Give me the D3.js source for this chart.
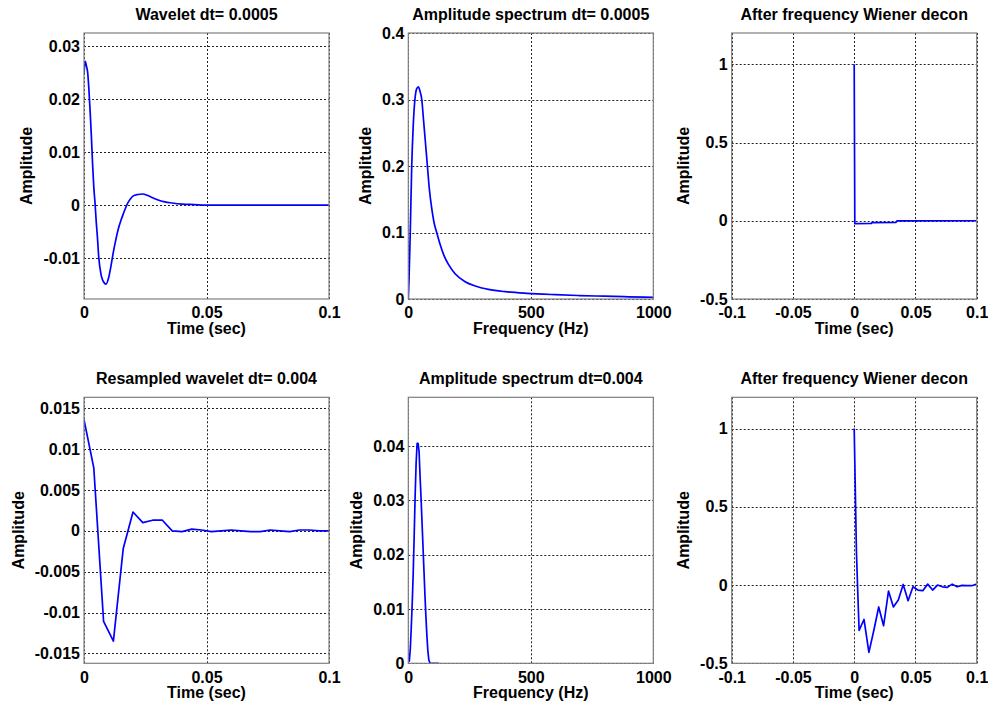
<!DOCTYPE html>
<html>
<head>
<meta charset="utf-8">
<script src="https://cdn.jsdelivr.net/npm/d3@7"></script>
<style>
  body { margin: 0; background: #fff; }
  text { font-family: "Liberation Sans", Arial, sans-serif; font-weight: bold; fill: #000; }
</style>
</head>
<body>
<div id="chart"></div>
<script>
// Titles and labels
const TITLES = [
	"Wavelet dt= 0.0005",
	"Amplitude spectrum dt= 0.0005",
	"After frequency Wiener decon",
	"Resampled wavelet dt= 0.004",
	"Amplitude spectrum dt=0.004",
	"After frequency Wiener decon"
];
const X_LABELS = ["Time (sec)", "Frequency (Hz)", "Time (sec)", "Time (sec)", "Frequency (Hz)", "Time (sec)"];
const Y_LABEL = "Amplitude";

// Tick values and their labels
const timeTicks = [0, 0.05, 0.1];
const timeTickLabels = ["0", "0.05", "0.1"];
const freqTicks = [0, 500, 1000];
const freqTickLabels = ["0", "500", "1000"];
const deconTimeTicks = [-0.1, -0.05, 0, 0.05, 0.1];
const deconTimeTickLabels = ["-0.1", "-0.05", "0", "0.05", "0.1"];
const wavelet1Ticks = [-0.01, 0, 0.01, 0.02, 0.03];
const wavelet1TickLabels = ["-0.01", "0", "0.01", "0.02", "0.03"];
const spectrum1Ticks = [0, 0.1, 0.2, 0.3, 0.4];
const spectrum1TickLabels = ["0", "0.1", "0.2", "0.3", "0.4"];
const deconTicks = [-0.5, 0, 0.5, 1];
const deconTickLabels = ["-0.5", "0", "0.5", "1"];
const wavelet2Ticks = [-0.015, -0.01, -0.005, 0, 0.005, 0.01, 0.015];
const wavelet2TickLabels = ["-0.015", "-0.01", "-0.005", "0", "0.005", "0.01", "0.015"];
const spectrum2Ticks = [0, 0.01, 0.02, 0.03, 0.04];
const spectrum2TickLabels = ["0", "0.01", "0.02", "0.03", "0.04"];

// Wavelet dt = 0.0005
const wavelet1Time = [0, 0.0005, 0.001, 0.0015, 0.002, 0.0025, 0.003, 0.0035, 0.004, 0.0045, 0.005, 0.0055,
	0.006, 0.007, 0.008, 0.009, 0.010, 0.011, 0.012, 0.013, 0.014, 0.015, 0.016, 0.017, 0.018, 0.019, 0.020,
	0.022, 0.024, 0.026, 0.028, 0.030, 0.033, 0.036, 0.040, 0.045, 0.050, 0.070, 0.100];
const wavelet1Amp = [0.0248, 0.0271, 0.0262, 0.0250, 0.0218, 0.0177, 0.0131, 0.0078, 0.0034, 0.0004, -0.0032, -0.0062,
	-0.0097, -0.0132, -0.0145, -0.0149, -0.0138, -0.0115, -0.0088, -0.0065, -0.0045, -0.0030, -0.0017, -0.0005, 0.0005, 0.0012, 0.0017,
	0.0020, 0.0021, 0.0018, 0.0014, 0.0010, 0.0006, 0.0004, 0.0002, 0.0001, 0.0000, 0.0000, 0.0000];

// Amplitude spectrum dt = 0.0005
const spectrum1Freq = [0, 3, 8, 14, 20, 27, 34, 41, 48, 55, 62, 70, 78, 86, 95, 105, 116, 130, 145, 164, 191,
	232, 273, 327, 396, 484, 600, 700, 800, 900, 1000];
const spectrum1Amp = [0, 0.03, 0.1, 0.2, 0.26, 0.3, 0.316, 0.319, 0.312, 0.3, 0.27, 0.235, 0.2, 0.165, 0.138, 0.115, 0.1,
	0.082, 0.066, 0.052, 0.038, 0.026, 0.0196, 0.0145, 0.011, 0.0085, 0.0065, 0.0052, 0.0042, 0.0033, 0.0026];

// Deconvolved trace dt = 0.0005
const decon1Time = [0, 0.0005, 0.014, 0.0145, 0.034, 0.035, 0.1];
const decon1Amp = [1, -0.018, -0.017, -0.012, -0.010, -0.001, 0];

// Resampled wavelet dt = 0.004
const wavelet2Time = [0, 0.004, 0.008, 0.012, 0.016, 0.020, 0.024, 0.028, 0.032, 0.036, 0.040, 0.044, 0.048,
	0.052, 0.056, 0.060, 0.064, 0.068, 0.072, 0.076, 0.080, 0.084, 0.088, 0.092, 0.096, 0.100];
const wavelet2Amp = [0.0136, 0.0077, -0.0111, -0.0135, -0.0022, 0.0023, 0.0010, 0.0013, 0.0013, 0.0000, -0.0001, 0.0002, 0.0001,
	-0.0001, 0.0000, 0.0001, 0.0000, -0.0001, -0.0001, 0.0001, 0.0000, -0.0001, 0.0001, 0.0001, 0.0000, 0.0000];

// Amplitude spectrum dt = 0.004
const spectrum2Freq = [0, 4, 8, 12, 16, 20, 24, 28, 32, 36, 40, 44, 48, 52, 56, 60, 64, 68, 72, 76, 80, 84, 88, 92,
	100, 110, 125];
const spectrum2Amp = [0.0012, 0.0004, 0.0025, 0.0065, 0.011, 0.0165, 0.0235, 0.031, 0.037, 0.0405, 0.0405, 0.039, 0.0345,
	0.0305, 0.026, 0.0215, 0.017, 0.0125, 0.0085, 0.005, 0.0022, 0.0006, 0.0001, 0, 0, 0, 0];

// Deconvolved trace dt = 0.004
const decon2Time = [0, 0.0006, 0.0012, 0.0018, 0.0028, 0.004, 0.008, 0.012, 0.016, 0.020, 0.024, 0.028, 0.032, 0.036,
	0.040, 0.044, 0.048, 0.052, 0.056, 0.060, 0.064, 0.068, 0.072, 0.076, 0.080, 0.084, 0.088, 0.092, 0.096, 0.100];
const decon2Amp = [1.0, 0.74, 0.48, 0.22, -0.02, -0.29, -0.22, -0.43, -0.29, -0.14, -0.26, -0.038, -0.14, -0.096,
	0.004, -0.10, -0.011, -0.032, -0.036, 0.006, -0.032, 0.0, -0.011, -0.015, 0.006, -0.011, -0.002, -0.004, -0.004, 0.006];

// Layout
const WIDTH = 988;
const HEIGHT = 706;
const PLOT_W = 245;
const PLOT_H = 266;
const COLS = [84, 408.3, 731.7];
const ROWS = [33, 397.3];

const panels = [
	{ xs: wavelet1Time, ys: wavelet1Amp, xDomain: [0, 0.1], yDomain: [-0.0177, 0.03245],
		xTicks: timeTicks, xLabels: timeTickLabels, yTicks: wavelet1Ticks, yLabels: wavelet1TickLabels, smooth: true },
	{ xs: spectrum1Freq, ys: spectrum1Amp, xDomain: [0, 1000], yDomain: [0, 0.4],
		xTicks: freqTicks, xLabels: freqTickLabels, yTicks: spectrum1Ticks, yLabels: spectrum1TickLabels, smooth: true },
	{ xs: decon1Time, ys: decon1Amp, xDomain: [-0.1, 0.1], yDomain: [-0.5, 1.2],
		xTicks: deconTimeTicks, xLabels: deconTimeTickLabels, yTicks: deconTicks, yLabels: deconTickLabels, smooth: false },
	{ xs: wavelet2Time, ys: wavelet2Amp, xDomain: [0, 0.1], yDomain: [-0.01622, 0.01635],
		xTicks: timeTicks, xLabels: timeTickLabels, yTicks: wavelet2Ticks, yLabels: wavelet2TickLabels, smooth: false },
	{ xs: spectrum2Freq, ys: spectrum2Amp, xDomain: [0, 1000], yDomain: [0, 0.049],
		xTicks: freqTicks, xLabels: freqTickLabels, yTicks: spectrum2Ticks, yLabels: spectrum2TickLabels, smooth: false },
	{ xs: decon2Time, ys: decon2Amp, xDomain: [-0.1, 0.1], yDomain: [-0.5, 1.2],
		xTicks: deconTimeTicks, xLabels: deconTimeTickLabels, yTicks: deconTicks, yLabels: deconTickLabels, smooth: false }
];

const svg = d3
	.select("#chart")
	.append("svg")
	.attr("width", WIDTH)
	.attr("height", HEIGHT);

panels.forEach((p, i) => {
	const left = COLS[i % 3];
	const top = ROWS[Math.floor(i / 3)];

	const x = d3.scaleLinear().domain(p.xDomain).range([left, left + PLOT_W]);
	const y = d3.scaleLinear().domain(p.yDomain).range([top + PLOT_H, top]);

	const g = svg.append("g");

	// White plot area
	g.append("rect")
		.attr("x", left).attr("y", top)
		.attr("width", PLOT_W).attr("height", PLOT_H)
		.attr("fill", "#fff");

	// Dotted grid
	g.append("g")
		.selectAll("line")
		.data(p.xTicks)
		.join("line")
		.attr("x1", (d) => Math.round(x(d)) + 0.5)
		.attr("x2", (d) => Math.round(x(d)) + 0.5)
		.attr("y1", top)
		.attr("y2", top + PLOT_H)
		.attr("stroke", "#222")
		.attr("stroke-dasharray", "2,2");

	g.append("g")
		.selectAll("line")
		.data(p.yTicks)
		.join("line")
		.attr("x1", left)
		.attr("x2", left + PLOT_W)
		.attr("y1", (d) => Math.round(y(d)) + 0.5)
		.attr("y2", (d) => Math.round(y(d)) + 0.5)
		.attr("stroke", "#222")
		.attr("stroke-dasharray", "2,2");

	// Clip for the trace
	svg.append("clipPath")
		.attr("id", "clip" + i)
		.append("rect")
		.attr("x", left).attr("y", top)
		.attr("width", PLOT_W).attr("height", PLOT_H);

	const line = d3.line()
		.x((d) => x(d[0]))
		.y((d) => y(d[1]))
		.curve(p.smooth ? d3.curveMonotoneX : d3.curveLinear);

	g.append("path")
		.datum(d3.zip(p.xs, p.ys))
		.attr("clip-path", `url(#clip${i})`)
		.attr("fill", "none")
		.attr("stroke", "#0000ff")
		.attr("stroke-width", 1.7)
		.attr("stroke-linejoin", "round")
		.attr("d", line);

	// Box
	g.append("rect")
		.attr("x", left).attr("y", top)
		.attr("width", PLOT_W).attr("height", PLOT_H)
		.attr("fill", "none")
		.attr("stroke", "#808080")
		.attr("stroke-width", 1.2);

	// Axes
	const xAxis = g.append("g")
		.attr("transform", `translate(0,${top + PLOT_H})`)
		.call(d3.axisBottom(x).tickValues(p.xTicks).tickFormat((d, k) => p.xLabels[k]).tickSize(0).tickPadding(8));
	xAxis.select(".domain").remove();

	const yAxis = g.append("g")
		.attr("transform", `translate(${left},0)`)
		.call(d3.axisLeft(y).tickValues(p.yTicks).tickFormat((d, k) => p.yLabels[k]).tickSize(0).tickPadding(4));
	yAxis.select(".domain").remove();

	g.selectAll(".tick text")
		.attr("font-family", "Liberation Sans, Arial, sans-serif")
		.attr("font-weight", "bold")
		.attr("font-size", 16)
		.attr("fill", "#000");

	// Title
	g.append("text")
		.attr("x", left + PLOT_W / 2)
		.attr("y", top - 13.5)
		.attr("text-anchor", "middle")
		.attr("font-size", 16)
		.text(TITLES[i]);

	// X label
	g.append("text")
		.attr("x", left + PLOT_W / 2)
		.attr("y", top + PLOT_H + 35)
		.attr("text-anchor", "middle")
		.attr("font-size", 16)
		.text(X_LABELS[i]);

	// Y label sits just left of the widest tick label
	let maxW = 0;
	yAxis.selectAll(".tick text").each(function () {
		maxW = Math.max(maxW, this.getBBox().width);
	});
	const yl = left - 4 - maxW - 11;
	g.append("text")
		.attr("transform", `translate(${yl},${top + PLOT_H / 2}) rotate(-90)`)
		.attr("text-anchor", "middle")
		.attr("font-size", 16)
		.text(Y_LABEL);
});
</script>
</body>
</html>
